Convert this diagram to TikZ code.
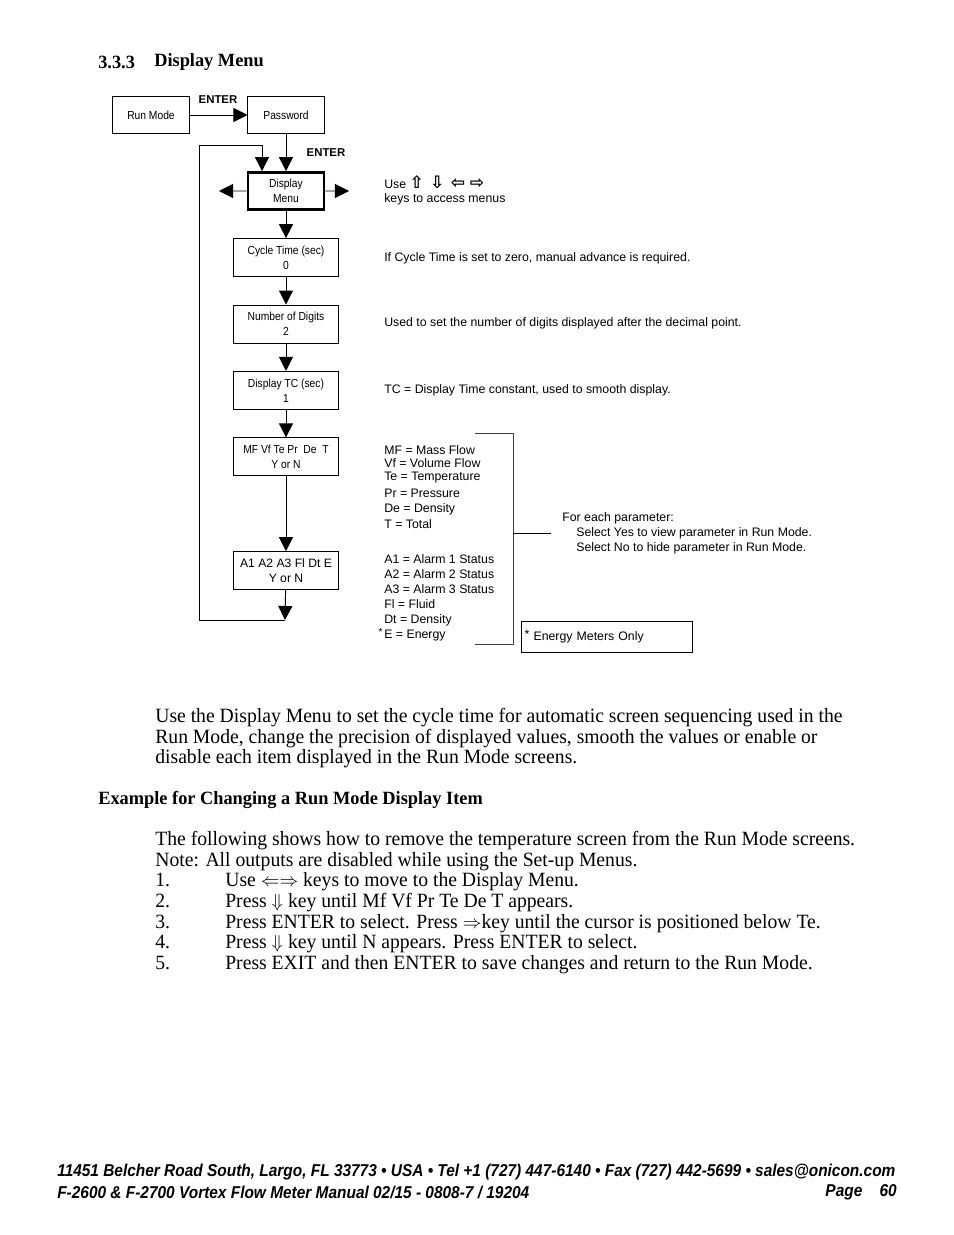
\documentclass[tikz,border=0pt]{standalone}
\usepackage{fontspec}
\setmainfont{Liberation Serif}
\setsansfont{Liberation Sans}
\newfontfamily\bodyfont[FakeStretch=0.97]{Liberation Serif}
\newfontfamily\headfont[FakeStretch=0.98]{Liberation Serif}
\newfontfamily\narrowsf[FakeStretch=0.88]{Liberation Sans}
\newfontfamily\footfont[FakeStretch=0.9]{Liberation Sans}
\newfontfamily\symfont{DejaVu Sans}
\usetikzlibrary{arrows.meta,positioning}

\tikzset{
  menubox/.style={draw,line width=0.6pt,minimum width=67.4pt,minimum height=24.4pt,align=center,font=\narrowsf\fontsize{7.5}{9.6}\selectfont,inner sep=1pt},
  keybox/.style={draw,line width=0.6pt,minimum width=48.8pt,minimum height=23.8pt,align=center,font=\narrowsf\fontsize{7.5}{9.6}\selectfont,inner sep=1pt},
  note/.style={anchor=west,inner sep=0pt,font=\sffamily\fontsize{7.9}{9}\selectfont},
  body/.style={anchor=west,inner sep=0pt,text height=8.5pt,text depth=2.5pt,font=\bodyfont\fontsize{13}{14}\selectfont},
  arr/.style={line width=0.6pt,-{Triangle[length=9pt,width=9pt]}}
}

\begin{document}
\begin{tikzpicture}[x=0.6415pt,y=-0.6415pt,node distance=17.6pt]
\useasboundingbox (0,0) rectangle (954,1235);

% heading
\node[anchor=west,inner sep=0pt,font=\headfont\bfseries\fontsize{12}{13}\selectfont] (sec) at (98,62) {3.3.3};
\node[anchor=west,inner sep=0pt,font=\headfont\bfseries\fontsize{12}{13}\selectfont] (sectitle) at (154,62) {Display Menu};

% menu chain
\node[keybox] (run) at (151,115) {Run Mode};
\node[keybox,right=37.2pt of run] (pass) {Password};
\node[keybox,line width=1.6pt,below=23.8pt of pass] (disp) {Display\\Menu};
\node[menubox,below=of disp] (cyc) {Cycle Time (sec)\\0};
\node[menubox,below=of cyc] (dig) {Number of Digits\\2};
\node[menubox,below=of dig] (tc) {Display TC (sec)\\1};
\node[menubox,below=of tc] (mf) {MF Vf Te Pr\ \ De\ \ T\\Y or N};
\node[menubox,below=48pt of mf,font=\sffamily\fontsize{7.8}{9.6}\selectfont] (alm) {A1 A2 A3 Fl Dt E\\Y or N};

\node[font=\sffamily\bfseries\fontsize{7.3}{8}\selectfont] (ent1) at (218,100) {ENTER};
\node[font=\sffamily\bfseries\fontsize{7.3}{8}\selectfont] (ent2) at (326,153) {ENTER};

\coordinate (leftkey) at (219,191);
\coordinate (rightkey) at (349,191);
\coordinate (loopend) at (285,620);
\coordinate (loopcorner) at (199,145);

\draw[arr] (run) -- (pass);
\draw[arr] (pass) -- (disp);
\draw[arr] (disp) -- (leftkey);
\draw[arr] (disp) -- (rightkey);
\draw[arr] (disp) -- (cyc);
\draw[arr] (cyc) -- (dig);
\draw[arr] (dig) -- (tc);
\draw[arr] (tc) -- (mf);
\draw[arr] (mf) -- (alm);
\draw[arr] (alm) -- (loopend);
\draw[arr] (loopend) -| (loopcorner) -| ([xshift=-15.4pt]disp.north);

% notes
\node[note] (use) at (384,182) {Use {\symfont\bfseries\fontsize{11}{11}\selectfont ⇧\hspace{4pt}⇩\hspace{4pt}⇦\hspace{3pt}⇨}};
\node[note] (usekeys) at (384,199) {keys to access menus};
\node[note] (cycnote) at (384,258) {If Cycle Time is set to zero, manual advance is required.};
\node[note] (dignote) at (384,323) {Used to set the number of digits displayed after the decimal point.};
\node[note] (tcnote) at (384,390) {TC = Display Time constant, used to smooth display.};

\node[note] (mf1) at (384,450) {MF = Mass Flow};
\node[note] (mf2) at (384,463) {Vf = Volume Flow};
\node[note] (mf3) at (384,478) {Te = Temperature};
\node[note] (mf4) at (384,493) {Pr = Pressure};
\node[note] (mf5) at (384,509) {De = Density};
\node[note] (mf6) at (384,524) {T = Total};

\node[note] (a1) at (384,559) {A1 = Alarm 1 Status};
\node[note] (a2) at (384,574) {A2 = Alarm 2 Status};
\node[note] (a3) at (384,589) {A3 = Alarm 3 Status};
\node[note] (a4) at (384,604) {Fl = Fluid};
\node[note] (a5) at (384,620) {Dt = Density};
\node[note] (a6) at (384,636) {E = Energy};
\node[note,anchor=east,font=\sffamily\fontsize{6.5}{6}\selectfont] (star) at (383,632) {*};

% bracket
\coordinate (brtop) at (475,433);
\coordinate (brbot) at (475,644);
\coordinate (brmid) at (513,533);
\coordinate (brout) at (551,533);
\draw[line width=0.6pt,black!75] (brtop) -- ++(38,0) |- (brbot);
\draw[line width=0.6pt] (brmid) -- (brout);

\node[note] (each) at (562,518) {For each parameter:};
\node[note] (yes) at (576,533) {Select Yes to view parameter in Run Mode.};
\node[note] (no) at (576,548) {Select No to hide parameter in Run Mode.};

\node[draw,line width=0.6pt,minimum width=109.7pt,minimum height=19.9pt,text width=105pt,align=left,inner sep=2pt,font=\sffamily\fontsize{7.9}{9}\selectfont] (energy) at (606.5,636.5) {\raisebox{1pt}{*} Energy Meters Only};

% body text
\node[body] (p1) at (155,718) {Use the Display Menu to set the cycle time for automatic screen sequencing used in the};
\node[body] (p2) at (155,739) {Run Mode, change the precision of displayed values, smooth the values or enable or};
\node[body] (p3) at (155,759) {disable each item displayed in the Run Mode screens.};

\node[body,font=\headfont\bfseries\fontsize{12}{14}\selectfont] (exhead) at (98,800) {Example for Changing a Run Mode Display Item};

\node[body] (q1) at (155,841) {The following shows how to remove the temperature screen from the Run Mode screens.};
\node[body] (q2) at (155,862) {Note: All outputs are disabled while using the Set-up Menus.};
\foreach \n/\yy/\txt in {1/882/{Use $\Leftarrow\Rightarrow$ keys to move to the Display Menu.},
                         2/903/{Press $\Downarrow$ key until Mf Vf Pr Te De T appears.},
                         3/924/{Press ENTER to select. Press $\Rightarrow$key until the cursor is positioned below Te.},
                         4/944/{Press $\Downarrow$ key until N appears. Press ENTER to select.},
                         5/965/{Press EXIT and then ENTER to save changes and return to the Run Mode.}}{
  \node[body] (num\n) at (155,\yy) {\n.};
  \node[body] (step\n) at (225,\yy) {\txt};
}

% footer
\node[anchor=west,inner sep=0pt,font=\footfont\bfseries\itshape\fontsize{11}{12}\selectfont] (foot1) at (57,1172) {11451 Belcher Road South, Largo, FL 33773 • USA • Tel +1 (727) 447-6140 • Fax (727) 442-5699 • sales@onicon.com};
\node[anchor=west,inner sep=0pt,font=\footfont\bfseries\itshape\fontsize{11}{12}\selectfont] (foot2) at (57,1192) {F-2600 \& F-2700 Vortex Flow Meter Manual 02/15 - 0808-7 / 19204};
\node[anchor=east,inner sep=0pt,font=\footfont\bfseries\itshape\fontsize{11}{12}\selectfont] (page) at (897,1192) {Page\quad 60};
\end{tikzpicture}
\end{document}
